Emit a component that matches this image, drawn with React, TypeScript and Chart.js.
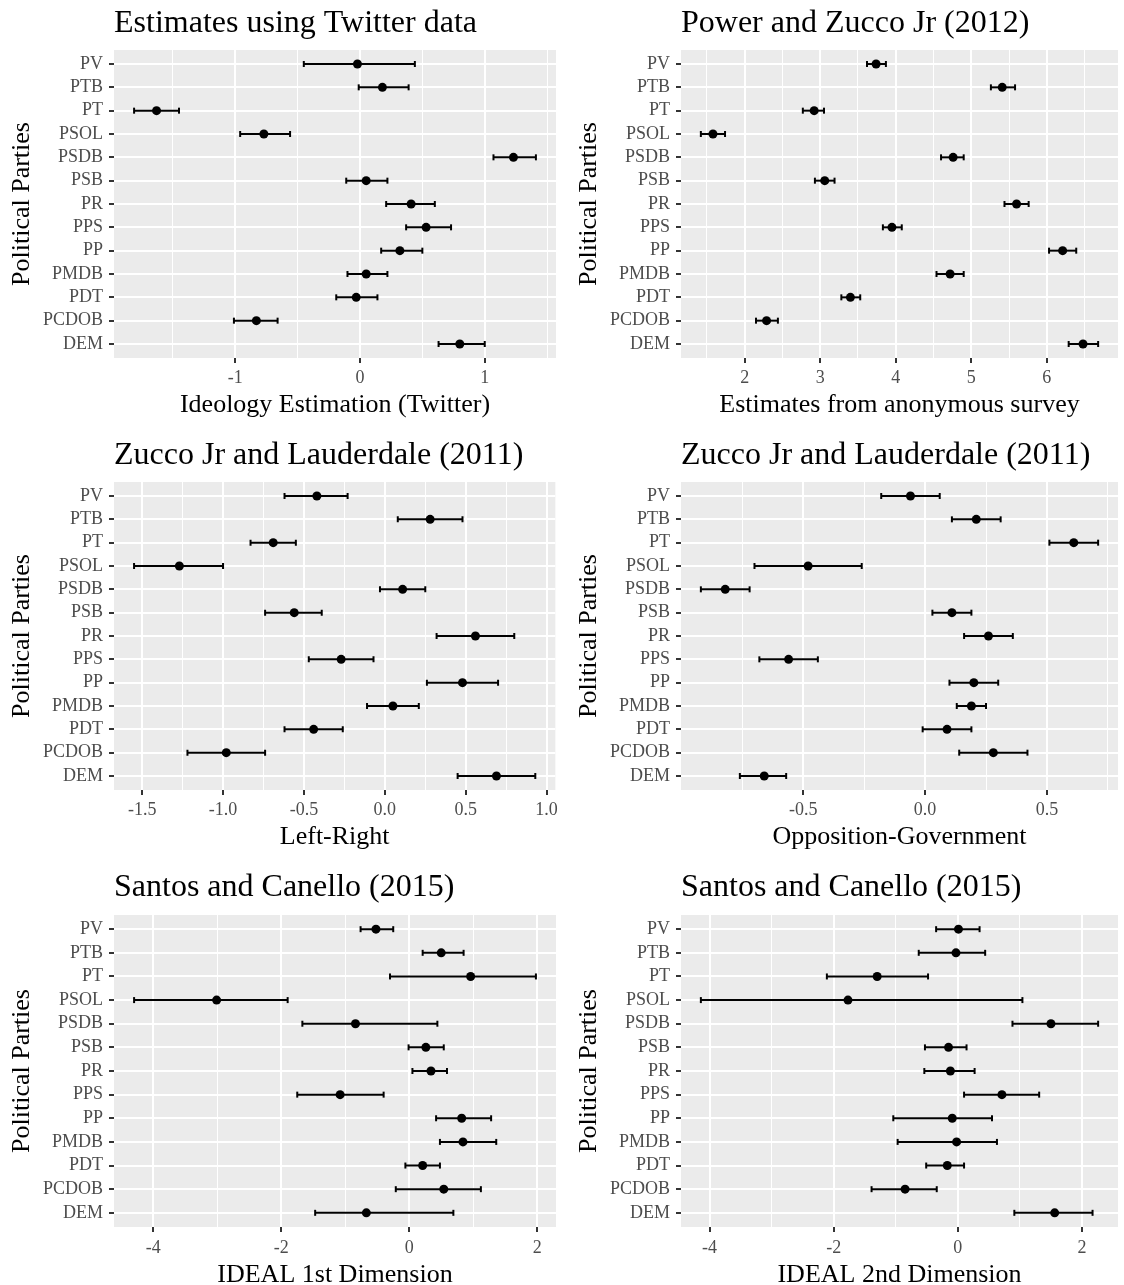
import React, { useEffect, useRef } from 'react';
import { Chart, registerables } from 'chart.js';

Chart.register(...registerables);

// ---------- data ----------
const parties = ['PV', 'PTB', 'PT', 'PSOL', 'PSDB', 'PSB', 'PR', 'PPS', 'PP', 'PMDB', 'PDT', 'PCDOB', 'DEM'];

const twitterEst = [-0.02, 0.18, -1.63, -0.77, 1.23, 0.05, 0.41, 0.53, 0.32, 0.05, -0.03, -0.83, 0.80];
const twitterLo = [-0.45, -0.01, -1.81, -0.96, 1.07, -0.11, 0.21, 0.37, 0.17, -0.10, -0.19, -1.01, 0.63];
const twitterHi = [0.44, 0.39, -1.45, -0.56, 1.41, 0.22, 0.60, 0.73, 0.50, 0.22, 0.14, -0.66, 1.00];

const surveyEst = [3.74, 5.41, 2.92, 1.58, 4.76, 3.06, 5.60, 3.95, 6.21, 4.72, 3.40, 2.29, 6.48];
const surveyLo = [3.62, 5.26, 2.77, 1.42, 4.60, 2.93, 5.44, 3.83, 6.03, 4.54, 3.28, 2.15, 6.29];
const surveyHi = [3.87, 5.58, 3.05, 1.74, 4.90, 3.19, 5.76, 4.08, 6.39, 4.90, 3.53, 2.44, 6.68];

const leftRightEst = [-0.42, 0.28, -0.69, -1.27, 0.11, -0.56, 0.56, -0.27, 0.48, 0.05, -0.44, -0.98, 0.69];
const leftRightLo = [-0.62, 0.08, -0.83, -1.55, -0.03, -0.74, 0.32, -0.47, 0.26, -0.11, -0.62, -1.22, 0.45];
const leftRightHi = [-0.23, 0.48, -0.55, -1.00, 0.25, -0.39, 0.80, -0.07, 0.70, 0.21, -0.26, -0.74, 0.93];

const oppGovEst = [-0.06, 0.21, 0.61, -0.48, -0.82, 0.11, 0.26, -0.56, 0.20, 0.19, 0.09, 0.28, -0.66];
const oppGovLo = [-0.18, 0.11, 0.51, -0.70, -0.92, 0.03, 0.16, -0.68, 0.10, 0.13, -0.01, 0.14, -0.76];
const oppGovHi = [0.06, 0.31, 0.71, -0.26, -0.72, 0.19, 0.36, -0.44, 0.30, 0.25, 0.19, 0.42, -0.57];

const ideal1Est = [-0.52, 0.50, 0.96, -3.01, -0.84, 0.26, 0.34, -1.08, 0.82, 0.84, 0.21, 0.54, -0.67];
const ideal1Lo = [-0.76, 0.21, -0.30, -4.30, -1.67, -0.01, 0.05, -1.75, 0.42, 0.48, -0.06, -0.21, -1.47];
const ideal1Hi = [-0.25, 0.85, 1.98, -1.90, 0.44, 0.54, 0.59, -0.40, 1.28, 1.36, 0.48, 1.12, 0.69];

const ideal2Est = [0.01, -0.03, -1.30, -1.77, 1.50, -0.15, -0.12, 0.71, -0.09, -0.02, -0.17, -0.85, 1.56];
const ideal2Lo = [-0.35, -0.63, -2.11, -4.14, 0.88, -0.53, -0.54, 0.10, -1.04, -0.97, -0.51, -1.39, 0.91];
const ideal2Hi = [0.35, 0.44, -0.48, 1.04, 2.26, 0.14, 0.27, 1.31, 0.55, 0.63, 0.10, -0.34, 2.17];

// tick values / labels
const twitterTicks = [-1, 0, 1];
const twitterTickLabels = ['-1', '0', '1'];
const twitterMinor = [-1.5, -0.5, 0.5, 1.5];

const surveyTicks = [2, 3, 4, 5, 6];
const surveyTickLabels = ['2', '3', '4', '5', '6'];
const surveyMinor = [1.5, 2.5, 3.5, 4.5, 5.5, 6.5];

const leftRightTicks = [-1.5, -1, -0.5, 0, 0.5, 1];
const leftRightTickLabels = ['-1.5', '-1.0', '-0.5', '0.0', '0.5', '1.0'];
const leftRightMinor = [-1.25, -0.75, -0.25, 0.25, 0.75];

const oppGovTicks = [-0.5, 0, 0.5];
const oppGovTickLabels = ['-0.5', '0.0', '0.5'];
const oppGovMinor = [-0.75, -0.25, 0.25, 0.75];

const idealTicks = [-4, -2, 0, 2];
const idealTickLabels = ['-4', '-2', '0', '2'];
const idealMinor = [-3, -1, 1];

const FONT = "'Liberation Serif', 'Times New Roman', serif";

interface PanelSpec {
  title: string;
  xTitle: string;
  est: number[];
  lo: number[];
  hi: number[];
  major: number[];
  majorLabels: string[];
  minor: number[];
  col: number;
  row: number;
}

const panels: PanelSpec[] = [
  { title: 'Estimates using Twitter data', xTitle: 'Ideology Estimation (Twitter)', est: twitterEst, lo: twitterLo, hi: twitterHi, major: twitterTicks, majorLabels: twitterTickLabels, minor: twitterMinor, col: 0, row: 0 },
  { title: 'Power and Zucco Jr (2012)', xTitle: 'Estimates from anonymous survey', est: surveyEst, lo: surveyLo, hi: surveyHi, major: surveyTicks, majorLabels: surveyTickLabels, minor: surveyMinor, col: 1, row: 0 },
  { title: 'Zucco Jr and Lauderdale (2011)', xTitle: 'Left-Right', est: leftRightEst, lo: leftRightLo, hi: leftRightHi, major: leftRightTicks, majorLabels: leftRightTickLabels, minor: leftRightMinor, col: 0, row: 1 },
  { title: 'Zucco Jr and Lauderdale (2011)', xTitle: 'Opposition-Government', est: oppGovEst, lo: oppGovLo, hi: oppGovHi, major: oppGovTicks, majorLabels: oppGovTickLabels, minor: oppGovMinor, col: 1, row: 1 },
  { title: 'Santos and Canello (2015)', xTitle: 'IDEAL 1st Dimension', est: ideal1Est, lo: ideal1Lo, hi: ideal1Hi, major: idealTicks, majorLabels: idealTickLabels, minor: idealMinor, col: 0, row: 2 },
  { title: 'Santos and Canello (2015)', xTitle: 'IDEAL 2nd Dimension', est: ideal2Est, lo: ideal2Lo, hi: ideal2Hi, major: idealTicks, majorLabels: idealTickLabels, minor: idealMinor, col: 1, row: 2 },
];

const PANEL_W = 562;
const PANEL_H = 432;

const bgPlugin = {
  id: 'panelBg',
  beforeDraw(chart: any) {
    const { ctx, chartArea } = chart;
    if (!chartArea) return;
    ctx.save();
    ctx.fillStyle = '#EBEBEB';
    ctx.fillRect(chartArea.left, chartArea.top, chartArea.right - chartArea.left, chartArea.bottom - chartArea.top);
    ctx.restore();
  },
};

function Panel({ spec }: { spec: PanelSpec }) {
  const ref = useRef<HTMLCanvasElement>(null);
  useEffect(() => {
    if (!ref.current) return;
    const lowest = Math.min(...spec.lo);
    const highest = Math.max(...spec.hi);
    const pad = (highest - lowest) * 0.05;
    const xmin = lowest - pad;
    const xmax = highest + pad;
    const isMajor = (v: number) => spec.major.some((m) => Math.abs(m - v) < 1e-9);
    const allTicks = [...spec.major, ...spec.minor].filter((v) => v >= xmin && v <= xmax).sort((a, b) => a - b);

    const lastRow = spec.row === 2;
    const xHeight = lastRow ? 69 : 74;
    const tickPad = lastRow ? 5 : 4;
    const xTitlePad = lastRow ? 5.4 : 11.4;
    const titlePadTop = 4.8;
    const titlePadBottom = lastRow ? 7.8 : 6.8;
    const yWidth = spec.col === 0 ? 114 : 119;
    const yTitlePad = spec.col === 0 ? 6.8 : 11.4;

    const errDatasets = parties.map((_, i) => ({
      type: 'scatter' as const,
      data: [
        { x: spec.lo[i], y: i },
        { x: spec.hi[i], y: i },
      ],
      showLine: true,
      borderColor: '#000',
      borderWidth: 2,
      pointRadius: 0,
      order: 2,
    }));
    const caps = {
      type: 'scatter' as const,
      data: [
        ...parties.map((_, i) => ({ x: spec.lo[i], y: i })),
        ...parties.map((_, i) => ({ x: spec.hi[i], y: i })),
      ],
      pointStyle: 'line' as const,
      rotation: 90,
      pointRadius: 3,
      borderColor: '#000',
      borderWidth: 2,
      order: 1,
    };
    const pts = {
      type: 'scatter' as const,
      data: parties.map((_, i) => ({ x: spec.est[i], y: i })),
      pointRadius: 4.5,
      backgroundColor: '#000',
      borderColor: '#000',
      borderWidth: 0,
      order: 0,
    };

    const chart = new Chart(ref.current, {
      type: 'scatter',
      data: { datasets: [pts, caps, ...errDatasets] as any },
      plugins: [bgPlugin],
      options: {
        animation: false,
        responsive: false,
        events: [],
        layout: { padding: { top: 0, left: 0, bottom: 0, right: spec.col === 0 ? 6 : 0 } },
        plugins: {
          legend: { display: false },
          tooltip: { enabled: false },
          title: {
            display: true,
            text: spec.title,
            align: 'start',
            fullSize: false,
            color: '#000',
            font: { family: FONT, size: 32, weight: 'normal', lineHeight: 1.2 },
            padding: { top: titlePadTop, bottom: titlePadBottom },
          },
        },
        scales: {
          x: {
            type: 'linear',
            position: 'bottom',
            min: xmin,
            max: xmax,
            afterBuildTicks: (s: any) => {
              s.ticks = allTicks.map((v) => ({ value: v }));
            },
            afterFit: (s: any) => {
              s.height = xHeight;
            },
            ticks: {
              autoSkip: false,
              maxRotation: 0,
              minRotation: 0,
              padding: tickPad,
              color: '#4D4D4D',
              font: { family: FONT, size: 18, lineHeight: 1.2 },
              callback: (v: any) => {
                const idx = spec.major.findIndex((m) => Math.abs(m - Number(v)) < 1e-9);
                return idx >= 0 ? spec.majorLabels[idx] : '';
              },
            },
            grid: {
              color: '#FFFFFF',
              lineWidth: (ctx: any) => (ctx.tick && isMajor(ctx.tick.value) ? 2 : 1),
              drawTicks: true,
              tickLength: 5,
              tickWidth: 2,
              tickColor: (ctx: any) => (ctx.tick && isMajor(ctx.tick.value) ? '#333333' : 'rgba(0,0,0,0)'),
            },
            border: { display: false },
            title: {
              display: true,
              text: spec.xTitle,
              color: '#000',
              font: { family: FONT, size: 26, lineHeight: 1.2 },
              padding: { top: 0, bottom: xTitlePad },
            },
          },
          y: {
            type: 'linear',
            position: 'left',
            reverse: true,
            min: -0.6,
            max: parties.length - 1 + 0.6,
            afterBuildTicks: (s: any) => {
              s.ticks = parties.map((_, i) => ({ value: i }));
            },
            afterFit: (s: any) => {
              s.width = yWidth;
            },
            ticks: {
              autoSkip: false,
              padding: 6,
              color: '#4D4D4D',
              font: { family: FONT, size: 18, lineHeight: 1.2 },
              callback: (v: any) => parties[Math.round(Number(v))] ?? '',
            },
            grid: {
              color: '#FFFFFF',
              lineWidth: 2,
              drawTicks: true,
              tickLength: 5,
              tickWidth: 2,
              tickColor: '#333333',
            },
            border: { display: false },
            title: {
              display: true,
              text: 'Political Parties',
              color: '#000',
              font: { family: FONT, size: 26, lineHeight: 1.2 },
              padding: { top: yTitlePad, bottom: 0 },
            },
          },
        },
      } as any,
    });
    return () => chart.destroy();
  }, [spec]);

  return (
    <div
      style={{
        position: 'absolute',
        left: spec.col * PANEL_W,
        top: spec.row * PANEL_H,
        width: PANEL_W,
        height: PANEL_H,
      }}
    >
      <canvas ref={ref} width={PANEL_W} height={PANEL_H} style={{ display: 'block' }} />
    </div>
  );
}

export default function App() {
  return (
    <div
      style={{
        position: 'absolute',
        left: 0,
        top: 0,
        width: 1124,
        height: 1285,
        overflow: 'hidden',
        background: '#FFFFFF',
      }}
    >
      {panels.map((p, i) => (
        <Panel key={i} spec={p} />
      ))}
    </div>
  );
}
